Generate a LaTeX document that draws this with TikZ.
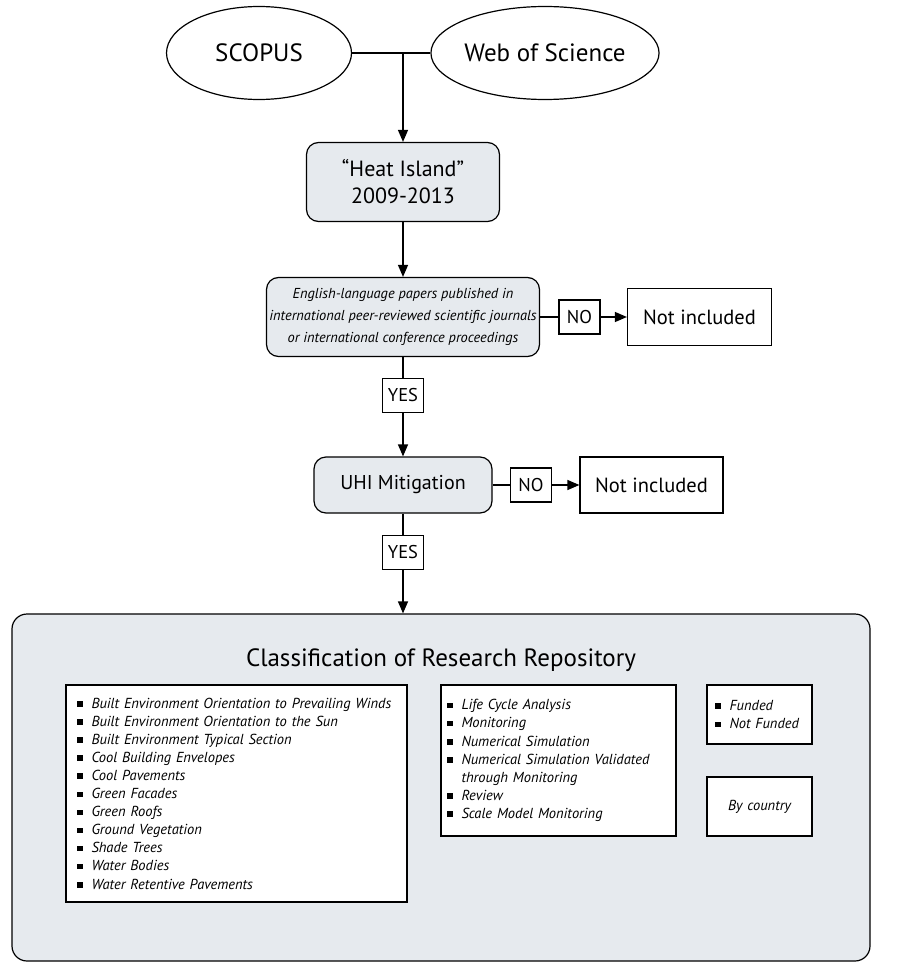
\documentclass[tikz,border=0pt]{standalone}
\usepackage{fontspec}
\setmainfont{PT Sans}
\usepackage{xcolor}
\usepackage{tikz}
\usetikzlibrary{shapes.geometric,positioning,arrows.meta}

\definecolor{stagefill}{RGB}{230,234,238}
\newcommand{\sq}{\rule[1.5pt]{5.5pt}{5.5pt}\hspace{9pt}}

\begin{document}
\begin{tikzpicture}[x=1pt,y=1pt,on grid,line width=1.2pt,>={Triangle[length=12pt,width=10pt]}]
        \tikzstyle{db}=[ellipse,draw,minimum width=185pt,minimum height=93pt,inner sep=0pt,font=\fontsize{25}{29}\selectfont]
        \tikzstyle{stage}=[draw,fill=stagefill,rounded corners=12pt,align=center,inner sep=0pt]
        \tikzstyle{answer}=[draw,fill=white,minimum width=41pt,minimum height=34pt,inner sep=0pt,font=\fontsize{18.5}{20}\selectfont]
        \tikzstyle{drop}=[draw,fill=white,minimum width=144pt,minimum height=57pt,inner sep=0pt,font=\fontsize{20.5}{24}\selectfont]
        \tikzstyle{listbox}=[draw,fill=white,inner ysep=0pt,align=left,font=\fontsize{14.5}{18.1}\selectfont\itshape]
        \useasboundingbox (0,0) rectangle (903,-963);
        % search
        \node[stage,minimum width=193pt,minimum height=79pt,font=\fontsize{22}{27}\selectfont] (heat) at (403,-182) {“Heat Island”\\2009-2013};
        \node[db] (scopus) [above left=129pt and 144pt of heat] {SCOPUS};
        \node[db] (wos) [above right=129pt and 142pt of heat] {Web of Science};
        % screening
        \node[stage,minimum width=273pt,minimum height=79pt,font=\fontsize{14.4}{21.7}\selectfont\itshape] (english) [below=135pt of heat] {English-language papers published in\\international peer-reviewed scientific journals\\or international conference proceedings};
        \node[answer] (no1) [right=176.5pt of english] {NO};
        \node[drop] (out1) [right=120pt of no1] {Not included};
        \node[answer] (yes1) [below=78.5pt of english] {YES};
        \node[stage,minimum width=178pt,minimum height=56pt,font=\fontsize{20}{24}\selectfont] (uhi) [below=168pt of english] {UHI Mitigation};
        \node[answer] (no2) [right=128pt of uhi] {NO};
        \node[drop,minimum width=143pt,minimum height=56pt] (out2) [right=120.5pt of no2] {Not included};
        \node[answer] (yes2) [below=67.5pt of uhi] {YES};
        % repository
        \node[stage,rounded corners=15pt,minimum width=858pt,minimum height=347pt] (repo) [below right=302.5pt and 38pt of uhi] {};
        \node[font=\fontsize{25}{29}\selectfont] (title) [below=31pt of repo.north] {Classification of Research Repository};
        \node[listbox,inner xsep=11pt,text width=319pt,minimum height=217pt] (strategies) [below left=6pt and 204.5pt of repo] {\sq Built Environment Orientation to Prevailing Winds\\
            \sq Built Environment Orientation to the Sun\\
            \sq Built Environment Typical Section\\
            \sq Cool Building Envelopes\\
            \sq Cool Pavements\\
            \sq Green Facades\\
            \sq Green Roofs\\
            \sq Ground Vegetation\\
            \sq Shade Trees\\
            \sq Water Bodies\\
            \sq Water Retentive Pavements};
        \node[listbox,inner xsep=6pt,text width=223pt,minimum height=151pt] (methods) [above right=33pt and 322pt of strategies] {\sq Life Cycle Analysis\\
            \sq Monitoring\\
            \sq Numerical Simulation\\
            \sq Numerical Simulation Validated\\
            \hphantom{\sq}through Monitoring\\
            \sq Review\\
            \sq Scale Model Monitoring};
        \node[listbox,inner xsep=8pt,text width=89pt,minimum height=59pt] (funding) [above right=46pt and 201pt of methods] {\sq Funded\\
            \sq Not Funded};
        \node[listbox,align=center,inner xsep=0pt,text width=105pt,minimum height=59pt] (country) [below=92pt of funding] {By country};
        % connectors
        \coordinate (join) at (heat |- scopus.east);
        \draw (scopus) -- (wos);
        \draw[->] (join) -- (heat);
        \draw[->] (heat) -- (english);
        \draw (english) -- (no1);
        \draw[->] (no1) -- (out1);
        \draw (english) -- (yes1);
        \draw[->] (yes1) -- (uhi);
        \draw (uhi) -- (no2);
        \draw[->] (no2) -- (out2);
        \draw (uhi) -- (yes2);
        \draw[->] (yes2) -- (yes2 |- repo.north);
    \end{tikzpicture}
\end{document}
